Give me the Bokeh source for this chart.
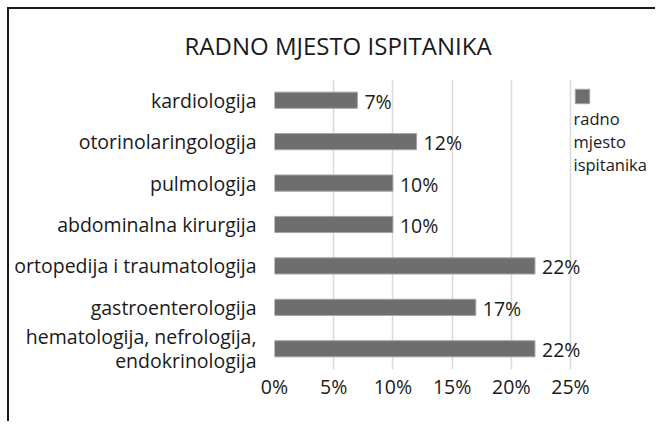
from bokeh.plotting import figure
from bokeh.models import FactorRange, Range1d, FixedTicker, Label, Legend, LegendItem, ColumnDataSource
from bokeh.core.properties import value
from bokeh.embed import file_html
from bokeh.resources import INLINE

title_text = "RADNO MJESTO ISPITANIKA"
categories = [
    "kardiologija",
    "otorinolaringologija",
    "pulmologija",
    "abdominalna kirurgija",
    "ortopedija i traumatologija",
    "gastroenterologija",
    "hematologija, nefrologija,\nendokrinologija",
]
values = [7, 12, 10, 10, 22, 17, 22]
value_labels = ["7%", "12%", "10%", "10%", "22%", "17%", "22%"]
x_ticks = [0, 5, 10, 15, 20, 25]
x_tick_labels = ["0%", "5%", "10%", "15%", "20%", "25%"]
series_name = "radno\nmjesto\nispitanika"

FONT = "Open Sans"
TXT = "#1a1a1a"
BAR = "#6e6e6e"

W, H = 648, 414
left, top, bottom = 265, 70, 54
px_per_unit = 296 / 25.0
x_end = (W - left) / px_per_unit
frame_h = H - top - bottom
frame_bottom = top + frame_h

src = ColumnDataSource(dict(cat=categories, val=values, lab=value_labels))

p = figure(
    width=W, height=H,
    y_range=FactorRange(factors=categories[::-1]),
    x_range=Range1d(0, x_end),
    output_backend="svg", toolbar_location=None,
    min_border_left=left, min_border_right=0,
    min_border_top=top, min_border_bottom=bottom,
    styles={"margin-top": "7px", "margin-left": "7px",
            "border-top": "2px solid #1a1a1a", "border-left": "2px solid #1a1a1a"},
)
p.outline_line_color = None
p.background_fill_color = "white"
p.border_fill_color = "white"

bars = p.hbar(y="cat", right="val", left=0, height=0.39, source=src,
              fill_color=BAR, line_color="#a3a3a3", line_width=1)

p.text(x="val", y="cat", text="lab", source=src, x_offset=7, y_offset=1,
       text_font=value(FONT), text_font_size="19.5px", text_color=TXT,
       text_baseline="middle", text_align="left")

# x axis
p.xaxis.ticker = FixedTicker(ticks=x_ticks)
p.xaxis.major_label_overrides = {t: l for t, l in zip(x_ticks, x_tick_labels)}
p.xaxis.axis_line_color = None
p.xaxis.major_tick_line_color = None
p.xaxis.minor_tick_line_color = None
p.xaxis.major_tick_out = 0
p.xaxis.major_tick_in = 0
p.xaxis.minor_tick_out = 0
p.xaxis.major_label_standoff = 3
p.xaxis.major_label_text_font = FONT
p.xaxis.major_label_text_font_size = "19.5px"
p.xaxis.major_label_text_color = TXT

# y axis
p.yaxis.axis_line_color = None
p.yaxis.major_tick_line_color = None
p.yaxis.minor_tick_line_color = None
p.yaxis.major_tick_out = 0
p.yaxis.major_tick_in = 0
p.yaxis.minor_tick_out = 0
p.yaxis.major_label_standoff = 18
p.yaxis.major_label_text_font = FONT
p.yaxis.major_label_text_font_size = "19.5px"
p.yaxis.major_label_text_color = TXT
p.yaxis.major_label_text_line_height = 0.9

p.xgrid.grid_line_color = "#d9d9d9"
p.xgrid.grid_line_width = 1.5
p.ygrid.grid_line_color = None

# title
p.title.text = title_text
p.title.align = "left"
p.title.offset = 175 - left
p.title.text_font = FONT
p.title.text_font_size = "24px"
p.title.text_font_style = "normal"
p.title.text_color = TXT
p.title.standoff = 35

# legend
leg = Legend(items=[LegendItem(label="", renderers=[bars])], location=(299, frame_bottom - 96),
             glyph_width=18, glyph_height=18, label_width=0, label_height=18,
             padding=0, spacing=0, margin=0, label_standoff=0,
             border_line_color=None, background_fill_alpha=0)
p.add_layout(leg, "center")
p.add_layout(Label(x=299, y=frame_bottom - 132, x_units="screen", y_units="screen", text=series_name,
                   text_font=FONT, text_font_size="16.5px", text_color=TXT,
                   text_align="left", text_baseline="middle", text_line_height=0.98))

open("out.html", "w").write(file_html(p, INLINE))
